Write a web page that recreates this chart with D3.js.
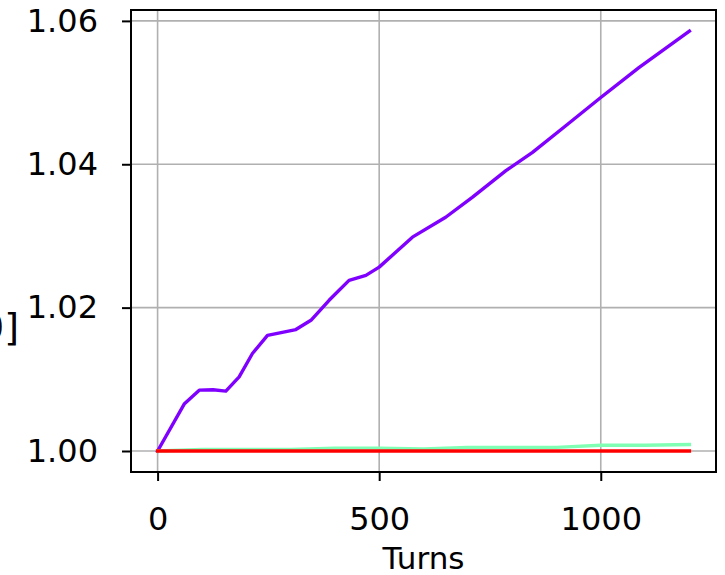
<!DOCTYPE html>
<html>
<head>
<meta charset="utf-8">
<script src="https://cdn.jsdelivr.net/npm/d3@7"></script>
<style>
  html, body { margin: 0; padding: 0; background: #fff; }
  svg { display: block; font-family: "DejaVu Sans", sans-serif; }
</style>
</head>
<body>
<svg id="chart" width="725" height="575"></svg>
<script>
// Relative growth over turns for three series
const turns = [0, 60, 94, 125, 154, 184, 214, 248, 312, 346, 387, 432, 470, 500, 575, 650, 710, 786, 846, 921, 1000, 1086, 1200];
const seriesA = [1.0000, 1.00654, 1.00849, 1.00855, 1.00835, 1.01034, 1.01360, 1.01614, 1.01694, 1.01823, 1.02102, 1.02380, 1.02450, 1.02565, 1.02983, 1.03261, 1.03539, 1.03911, 1.04166, 1.04537, 1.04931, 1.05349, 1.05859];
const turnsB = [0, 100, 200, 300, 400, 500, 600, 700, 800, 900, 1000, 1100, 1200];
const seriesB = [1.0000, 1.0002, 1.0002, 1.0002, 1.0004, 1.0004, 1.0003, 1.0005, 1.0005, 1.0005, 1.0008, 1.0008, 1.0009];
const seriesC = [1.0000, 1.0000, 1.0000, 1.0000, 1.0000, 1.0000, 1.0000, 1.0000, 1.0000, 1.0000, 1.0000, 1.0000, 1.0000];
const xTicks = [0, 500, 1000];
const yTicks = [1.00, 1.02, 1.04, 1.06];
const xLabel = "Turns";
const yLabel = "ε/ε[0]";

const svg = d3.select("#chart");
const plotLeft = 131, plotRight = 716, plotTop = 10, plotBottom = 472;

const xMin = 0, xMax = 1200;
const yMin = 1.0, yMax = d3.max(seriesA);
const xPad = (xMax - xMin) * 0.05, yPad = (yMax - yMin) * 0.05;
const x = d3.scaleLinear().domain([xMin - xPad, xMax + xPad]).range([plotLeft, plotRight]);
const y = d3.scaleLinear().domain([yMin - yPad, yMax + yPad]).range([plotBottom, plotTop]);

// grid
const grid = svg.append("g").attr("stroke", "#b0b0b0").attr("stroke-width", 1.6);
xTicks.forEach(t => grid.append("line").attr("x1", x(t)).attr("x2", x(t)).attr("y1", plotTop).attr("y2", plotBottom));
yTicks.forEach(t => grid.append("line").attr("x1", plotLeft).attr("x2", plotRight).attr("y1", y(t)).attr("y2", y(t)));

// lines, colored from the rainbow map: purple, green, red
const line = d3.line().x(d => x(d[0])).y(d => y(d[1]));
const plot = [
  { xs: turns, ys: seriesA, color: "#8000ff" },
  { xs: turnsB, ys: seriesB, color: "#80ffb4" },
  { xs: turnsB, ys: seriesC, color: "#ff0000" }
];
plot.forEach(s => {
  svg.append("path")
    .datum(s.xs.map((t, i) => [t, s.ys[i]]))
    .attr("d", line)
    .attr("fill", "none")
    .attr("stroke", s.color)
    .attr("stroke-width", 3.4)
    .attr("stroke-linejoin", "round")
    .attr("stroke-linecap", "square");
});

// axes
const xAxis = d3.axisBottom(x).tickValues(xTicks).tickFormat(d3.format("d")).tickSize(9).tickPadding(26);
const yAxis = d3.axisLeft(y).tickValues(yTicks).tickFormat(d3.format(".2f")).tickSize(9).tickPadding(24);

const gx = svg.append("g").attr("transform", `translate(0,${plotBottom})`).call(xAxis);
const gy = svg.append("g").attr("transform", `translate(${plotLeft},0)`).call(yAxis);
[gx, gy].forEach(g => {
  g.select(".domain").remove();
  g.selectAll(".tick line").attr("stroke", "#000").attr("stroke-width", 2);
  g.selectAll(".tick text").attr("fill", "#000").attr("font-size", 32).attr("font-family", "DejaVu Sans");
});

// frame
svg.append("rect")
  .attr("x", plotLeft).attr("y", plotTop)
  .attr("width", plotRight - plotLeft).attr("height", plotBottom - plotTop)
  .attr("fill", "none").attr("stroke", "#000").attr("stroke-width", 2);

svg.append("text")
  .attr("x", (plotLeft + plotRight) / 2).attr("y", 569)
  .attr("text-anchor", "middle").attr("font-size", 31).attr("fill", "#000")
  .text(xLabel);

svg.append("text")
  .attr("x", 19).attr("y", 340)
  .attr("text-anchor", "end").attr("font-size", 38).attr("fill", "#000")
  .text(yLabel);
</script>
</body>
</html>
